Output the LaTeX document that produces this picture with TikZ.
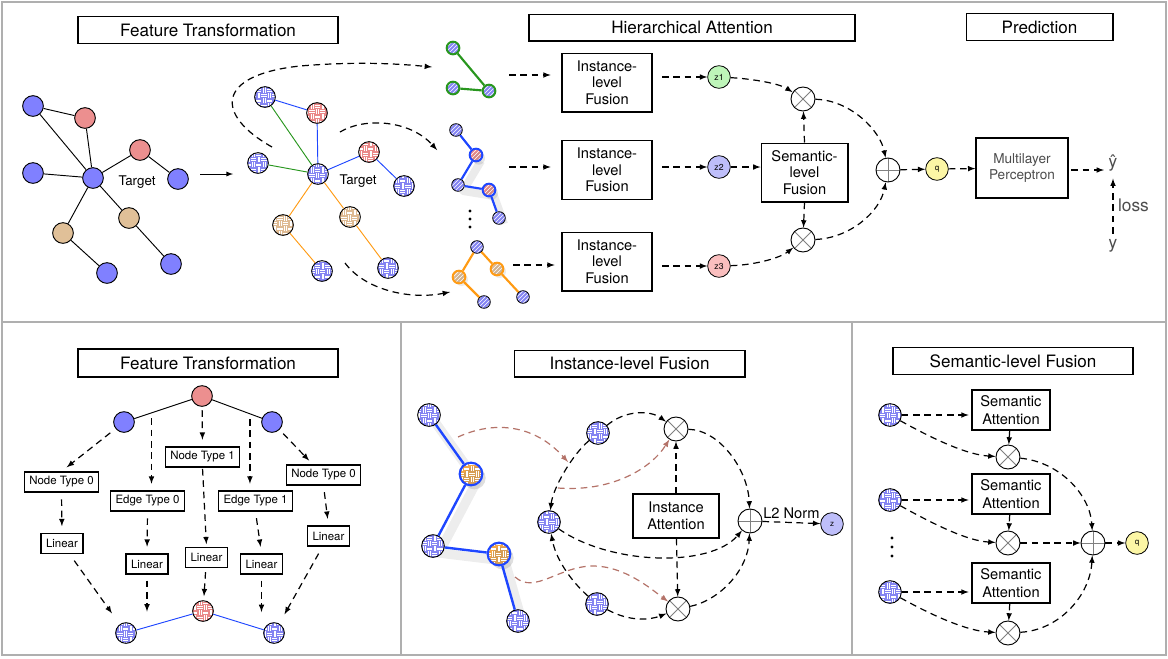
\documentclass[tikz,border=0pt]{standalone}
\usepackage{fontspec}
\setmainfont{TeX Gyre Heros}
\usetikzlibrary{patterns,shadows}

\definecolor{nblue}{RGB}{128,128,255}
\definecolor{nred}{RGB}{236,143,143}
\definecolor{ntan}{RGB}{224,192,152}
\definecolor{hblue}{RGB}{132,132,242}
\definecolor{hred}{RGB}{234,136,136}
\definecolor{htan}{RGB}{222,186,146}
\definecolor{horange}{RGB}{245,168,70}
\definecolor{eblue}{RGB}{30,70,255}
\definecolor{egreen}{RGB}{40,150,30}
\definecolor{eorange}{RGB}{255,155,20}
\definecolor{zgreen}{RGB}{190,245,185}
\definecolor{zblue}{RGB}{190,190,250}
\definecolor{zred}{RGB}{250,190,190}
\definecolor{qyellow}{RGB}{252,246,165}
\definecolor{rosy}{RGB}{180,115,105}
\definecolor{framegray}{RGB}{175,175,175}

% basket weave fill of the transformed nodes
\pgfdeclarepatternformonly{weave}{\pgfqpoint{-0.5pt}{-0.5pt}}{\pgfqpoint{8.5pt}{8.5pt}}{\pgfqpoint{8pt}{8pt}}{%
  \pgfsetlinewidth{0.3pt}%
  \pgfpathmoveto{\pgfqpoint{0pt}{1.3pt}}\pgfpathlineto{\pgfqpoint{4pt}{1.3pt}}%
  \pgfpathmoveto{\pgfqpoint{0pt}{2.7pt}}\pgfpathlineto{\pgfqpoint{4pt}{2.7pt}}%
  \pgfpathmoveto{\pgfqpoint{5.3pt}{0pt}}\pgfpathlineto{\pgfqpoint{5.3pt}{4pt}}%
  \pgfpathmoveto{\pgfqpoint{6.7pt}{0pt}}\pgfpathlineto{\pgfqpoint{6.7pt}{4pt}}%
  \pgfpathmoveto{\pgfqpoint{1.3pt}{4pt}}\pgfpathlineto{\pgfqpoint{1.3pt}{8pt}}%
  \pgfpathmoveto{\pgfqpoint{2.7pt}{4pt}}\pgfpathlineto{\pgfqpoint{2.7pt}{8pt}}%
  \pgfpathmoveto{\pgfqpoint{4pt}{5.3pt}}\pgfpathlineto{\pgfqpoint{8pt}{5.3pt}}%
  \pgfpathmoveto{\pgfqpoint{4pt}{6.7pt}}\pgfpathlineto{\pgfqpoint{8pt}{6.7pt}}%
  \pgfusepath{stroke}}

\begin{document}
\begin{tikzpicture}[x=0.75pt, y=-0.75pt, >=latex,
    vtx/.style={circle, draw, line width=0.7pt, inner sep=0pt, minimum size=15.5pt},
    hvtx/.style={vtx, preaction={fill=#1}, pattern=weave, pattern color=white},
    svtx/.style={circle, draw, line width=0.6pt, inner sep=0pt, minimum size=9.5pt,
        preaction={fill=#1}, pattern=north east lines, pattern color=white},
    svtx/.default=hblue,
    title/.style={draw, line width=1pt, minimum height=20pt, font=\fontsize{12.8}{14}\selectfont},
    fbox/.style={draw, line width=1pt, align=center, inner sep=2pt, font=\fontsize{11}{12.5}\selectfont},
    tbox/.style={draw, line width=0.9pt, inner sep=2pt, minimum height=15pt, minimum width=56pt,
        font=\fontsize{8.6}{10}\selectfont},
    lbox/.style={tbox, minimum width=31.5pt},
    zc/.style={circle, draw, line width=0.6pt, inner sep=0pt, minimum size=17pt,
        font=\fontsize{6.5}{7}\selectfont},
    mult/.style={circle, draw, line width=0.7pt, inner sep=0pt, minimum size=18pt, fill=white,
        path picture={\draw[gray, line width=0.6pt]
            (path picture bounding box.north west) -- (path picture bounding box.south east)
            (path picture bounding box.north east) -- (path picture bounding box.south west);}},
    plus/.style={mult, path picture={\draw[gray, line width=0.6pt]
            (path picture bounding box.north) -- (path picture bounding box.south)
            (path picture bounding box.west) -- (path picture bounding box.east);}},
    dar/.style={->, dash pattern=on 5pt off 3.5pt, line width=0.9pt},
    rdar/.style={dar, rosy},
    grey/.style={text=black!70}]

\useasboundingbox (0,0) rectangle (1168,658);

% panels
\draw[framegray, line width=1.2pt] (2,2) rectangle (1166,322);
\draw[framegray, line width=1.2pt] (2,322) rectangle (401,655) (401,322) rectangle (852,655) (852,322) rectangle (1166,655);

% ---------- top: feature transformation ----------
\node[title, minimum width=195pt] (ft) at (208,30) {Feature Transformation};

\node[vtx, fill=nblue] (a) at (33,106) {};
\node[vtx, fill=nred] (b) at (85,118) {};
\node[vtx, fill=nblue] (c) at (33,173) {};
\node[vtx, fill=nblue] (t) at (93,178) {};
\node[vtx, fill=nred] (d) at (140,150) {};
\node[vtx, fill=nblue] (e) at (178,179) {};
\node[vtx, fill=ntan] (f) at (129,218) {};
\node[vtx, fill=ntan] (g) at (63,233) {};
\node[vtx, fill=nblue] (h) at (107,273) {};
\node[vtx, fill=nblue] (i) at (171,264) {};
\node[font=\fontsize{10}{12}\selectfont] (tl) at (137,182) {Target};
\draw[line width=0.7pt] (a) -- (b) (a) -- (t) (b) -- (t) (c) -- (t) (t) -- (d) (d) -- (e)
    (t) -- (f) (f) -- (i) (t) -- (g) (g) -- (h);

\coordinate (l0) at (200,174);
\coordinate (l1) at (233,174);
\draw[->, line width=0.7pt] (l0) -- (l1);

\node[hvtx=hblue] (ra) at (265,97) {};
\node[hvtx=hred] (rb) at (317,113) {};
\node[hvtx=hblue] (rc) at (258,163) {};
\node[hvtx=hblue] (rt) at (318,174) {};
\node[hvtx=hred] (rd) at (369,152) {};
\node[hvtx=hblue] (re) at (404,186) {};
\node[hvtx=htan] (rf) at (350,217) {};
\node[hvtx=htan] (rg) at (283,225) {};
\node[hvtx=hblue] (rh) at (322,271) {};
\node[hvtx=hblue] (ri) at (388,268) {};
\node[font=\fontsize{10}{12}\selectfont] (rl) at (358,181) {Target};
\draw[eblue, line width=0.7pt] (ra) -- (rb) (rb) -- (rt) (rt) -- (rd) (rd) -- (re);
\draw[egreen, line width=0.7pt] (ra) -- (rt) (rc) -- (rt);
\draw[eorange, line width=0.7pt] (rt) -- (rf) (rf) -- (ri) (rt) -- (rg) (rg) -- (rh);

% meta-path instances
\coordinate (p1) at (272,147);
\coordinate (p1e) at (432,67);
\coordinate (p2) at (340,132);
\coordinate (p2e) at (437,150);
\coordinate (p3) at (345,263);
\coordinate (p3e) at (450,292);
\draw[dar] (p1) .. controls (215,115) and (215,75) .. (300,66) .. controls (360,61) and (400,64) .. (p1e);
\draw[dar] (p2) .. controls (365,117) and (410,120) .. (p2e);
\draw[dar] (p3) .. controls (365,290) and (410,300) .. (p3e);

\node[svtx, draw=egreen, line width=1.5pt] (g1) at (453,48) {};
\node[svtx, draw=egreen, line width=1.5pt] (g2) at (453,88) {};
\node[svtx, draw=egreen, line width=1.5pt] (g3) at (489,91) {};
\draw[egreen, line width=1.6pt] (g1) -- (g3) (g2) -- (g3);

\draw[black, opacity=0.08, line width=6pt, line join=round]
    ([shift={(5,6)}]476,155) -- ([shift={(5,6)}]458,185) -- ([shift={(5,6)}]489,190) -- ([shift={(5,6)}]499,218);
\node[svtx] (b1) at (456,130) {};
\node[svtx=hred, draw=eblue, line width=1.5pt, drop shadow={opacity=0.2, shadow xshift=2pt, shadow yshift=-2.5pt}] (b2) at (476,155) {};
\node[svtx] (b3) at (458,185) {};
\node[svtx=hred, draw=eblue, line width=1.5pt, drop shadow={opacity=0.2, shadow xshift=2pt, shadow yshift=-2.5pt}] (b4) at (489,190) {};
\node[svtx] (b5) at (499,218) {};
\draw[eblue, line width=1.6pt] (b1) -- (b2) (b2) -- (b3) (b3) -- (b4) (b4) -- (b5);

\foreach \yy in {211,219,227} \fill (470,\yy) circle (1.2pt);

\node[svtx] (o1) at (477,247) {};
\node[svtx=htan, draw=eorange, line width=1.5pt, drop shadow={opacity=0.15, shadow xshift=2pt, shadow yshift=-2pt}] (o2) at (497,269) {};
\node[svtx=htan, draw=eorange, line width=1.5pt, drop shadow={opacity=0.15, shadow xshift=2pt, shadow yshift=-2pt}] (o3) at (459,277) {};
\node[svtx] (o4) at (484,302) {};
\node[svtx] (o5) at (523,297) {};
\draw[eorange, line width=1.6pt] (o1) -- (o2) (o1) -- (o3) (o3) -- (o4) (o2) -- (o5);

% ---------- top: hierarchical attention ----------
\node[title, minimum width=244.5pt] (ha) at (692,27.5) {Hierarchical Attention};

\node[fbox, minimum width=67.5pt, minimum height=44pt] (ib1) at (607,82.5) {Instance-\\level\\Fusion};
\node[fbox, minimum width=67.5pt, minimum height=44pt] (ib2) at (607,170) {Instance-\\level\\Fusion};
\node[fbox, minimum width=67.5pt, minimum height=44pt] (ib3) at (607,261.5) {Instance-\\level\\Fusion};

\coordinate (gg) at (509,75);
\coordinate (bb) at (509,167);
\coordinate (oo) at (513,265);
\draw[dar, shorten >=8pt] (gg) -- (gg -| ib1.west);
\draw[dar, shorten >=8pt] (bb) -- (bb -| ib2.west);
\draw[dar, shorten >=5pt] (oo) -- (oo -| ib3.west);

\node[zc, fill=zgreen] (z1) at (719,77) {z1};
\node[zc, fill=zblue] (z2) at (719,167) {z2};
\node[zc, fill=zred] (z3) at (719,266) {z3};
\draw[dar, shorten <=7pt] (ib1.east |- z1) -- (z1);
\draw[dar, shorten <=7pt] (ib2.east |- z2) -- (z2);
\draw[dar, shorten <=7pt] (ib3.east |- z3) -- (z3);

\node[fbox, minimum width=65pt, minimum height=44pt] (sb) at (804.5,172.5) {Semantic-\\level\\Fusion};
\node[mult] (mt) at (803,99) {};
\node[mult] (mb) at (803,240) {};
\draw[dar] (z2) -- (z2 -| sb.west);
\draw[dar] (sb.north) -- (mt);
\draw[dar] (sb.south) -- (mb);
\draw[dar] (z1) .. controls (755,79) and (780,84) .. (mt);
\draw[dar] (z3) .. controls (755,265) and (780,258) .. (mb);

\node[plus] (pt) at (888,170) {};
\draw[dar] (mt) .. controls (850,100) and (880,130) .. (pt);
\draw[dar] (mb) .. controls (850,238) and (880,212) .. (pt);

% ---------- top: prediction ----------
\node[title, minimum width=110pt] (pr) at (1039.5,27) {Prediction};
\node[zc, fill=qyellow, font=\fontsize{6}{6}\selectfont] (q) at (937,169) {q};
\node[fbox, grey, minimum width=69pt, minimum height=45pt, font=\fontsize{10.2}{12.5}\selectfont] (mlp) at (1022,168) {Multilayer\\Perceptron};
\node[grey, font=\fontsize{13}{14}\selectfont] (yh) at (1113,163) {ŷ};
\node[grey, font=\fontsize{13}{14}\selectfont] (yy) at (1113,246) {y};
\draw[dar] (pt) -- (q);
\draw[dar] (q) -- (mlp);
\draw[dar, shorten <=2pt] (mlp.east |- 0,170) -- (yh.west |- 0,170);
\draw[dar, shorten <=1pt, shorten >=2pt] (yy) -- node[right, grey, font=\fontsize{13}{14}\selectfont] {loss} (yh);

% ---------- bottom left: feature transformation ----------
\node[title, minimum width=195pt, minimum height=21pt] (ft2) at (208,363) {Feature Transformation};

\node[vtx, fill=nred] (u0) at (202,396) {};
\node[vtx, fill=nblue] (ul) at (124,422) {};
\node[vtx, fill=nblue] (ur) at (272,422) {};
\draw[line width=0.7pt] (ul) -- coordinate[pos=0.3] (e0) (u0);
\draw[line width=0.7pt] (u0) -- coordinate[pos=0.76] (e1) (ur);

\node[tbox] (nt0) at (61.5,482) {Node Type 0};
\node[tbox] (et0) at (147.5,501) {Edge Type 0};
\node[tbox] (nt1) at (202.5,457) {Node Type 1};
\node[tbox] (et1) at (255.5,501) {Edge Type 1};
\node[tbox] (nt2) at (323.5,475) {Node Type 0};
\node[lbox] (ln0) at (62,543.5) {Linear};
\node[lbox] (ln1) at (147,564) {Linear};
\node[lbox] (ln2) at (206.5,557.5) {Linear};
\node[lbox] (ln3) at (261.5,564) {Linear};
\node[lbox] (ln4) at (328.5,536) {Linear};

\node[hvtx=hred] (w0) at (203,611) {};
\node[hvtx=hblue] (wl) at (126,633) {};
\node[hvtx=hblue] (wr) at (274,633) {};
\draw[eblue, line width=0.7pt] (wl) -- coordinate[pos=0.32] (f0) (w0);
\draw[eblue, line width=0.7pt] (w0) -- coordinate[pos=0.8] (f1) (wr);

\draw[dar, shorten <=5pt, shorten >=5pt] (ul) -- (nt0.north);
\draw[dar, shorten <=4pt, shorten >=5pt] (e0) -- (e0 |- et0.north);
\draw[dar, shorten <=2.5pt, shorten >=5pt] (u0) -- (nt1.north);
\draw[dar, shorten <=4pt, shorten >=5pt] (e1) -- (e1 |- et1.north);
\draw[dar, shorten <=4pt, shorten >=4pt] (ur) -- ([xshift=-8pt]nt2.north);
\draw[dar, shorten <=5pt, shorten >=5pt] (nt0.south) -- (ln0.north);
\draw[dar, shorten <=5pt, shorten >=5pt] (et0.south) -- (ln1.north);
\draw[dar, shorten <=1pt, shorten >=2pt] (nt1.south) -- (ln2.north);
\draw[dar, shorten <=5pt, shorten >=5pt] (et1.south) -- (ln3.north);
\draw[dar, shorten <=5pt, shorten >=5pt] (nt2.south) -- (ln4.north);
\draw[dar, shorten <=6pt, shorten >=10pt] (ln0) -- (wl);
\draw[dar, shorten <=4.5pt, shorten >=10pt] (ln1.south) -- (ln1.south |- f0);
\draw[dar, shorten <=3pt, shorten >=3pt] (ln2) -- (w0);
\draw[dar, shorten <=4.5pt, shorten >=11pt] (ln3.south) -- (ln3.south |- f1);
\draw[dar, shorten <=6pt, shorten >=8pt] (ln4) -- (wr);

% ---------- bottom middle: instance-level fusion ----------
\node[title, minimum width=173pt] (ilf) at (629.5,363.5) {Instance-level Fusion};

\draw[black, opacity=0.07, line width=7pt, line join=round]
    ([shift={(6,7)}]429,415) -- ([shift={(6,7)}]471,474) -- ([shift={(6,7)}]433,546)
    -- ([shift={(6,7)}]499,554) -- ([shift={(6,7)}]518,621);
\node[hvtx=hblue, minimum size=17pt] (n1) at (429,415) {};
\node[hvtx=horange, minimum size=17pt, draw=eblue, line width=1.6pt,
    drop shadow={opacity=0.25, shadow xshift=2.5pt, shadow yshift=-3pt}] (n2) at (471,474) {};
\node[hvtx=hblue, minimum size=17pt] (n3) at (433,546) {};
\node[hvtx=horange, minimum size=17pt, draw=eblue, line width=1.6pt,
    drop shadow={opacity=0.25, shadow xshift=2.5pt, shadow yshift=-3pt}] (n4) at (499,554) {};
\node[hvtx=hblue, minimum size=17pt] (n5) at (518,621) {};
\draw[eblue, line width=1.8pt] (n1) -- (n2) (n2) -- (n3) (n3) -- (n4) (n4) -- (n5);

\node[hvtx=hblue, minimum size=17pt] (m1) at (598,433) {};
\node[hvtx=hblue, minimum size=17pt] (m2) at (549,522) {};
\node[hvtx=hblue, minimum size=17pt] (m3) at (597,604) {};
\node[mult] (x1) at (676,429) {};
\node[mult] (x2) at (678,609) {};
\node[plus] (pp) at (750,521) {};
\node[fbox, minimum width=64.5pt, minimum height=33pt] (ia) at (676,516) {Instance\\Attention};
\node[zc, fill=zblue, font=\fontsize{6}{6}\selectfont] (zz) at (832,524) {z};

\draw[dar] (m1) .. controls (625,410) and (650,410) .. (x1);
\draw[dar] (x1) .. controls (720,430) and (748,470) .. (pp);
\draw[dar] (m1) .. controls (572,455) and (553,488) .. (m2);
\draw[dar] (m2) .. controls (610,565) and (710,568) .. (pp);
\draw[dar] (m3) .. controls (572,582) and (556,560) .. (m2);
\draw[dar] (m3) .. controls (630,622) and (650,620) .. (x2);
\draw[dar] (x2) .. controls (720,600) and (748,570) .. (pp);
\draw[dar] (ia) -- (x1);
\draw[dar] (ia) -- (x2);
\draw[dar] (pp) -- node[above=-1pt, font=\fontsize{11}{12}\selectfont] {L2 Norm} (zz);

\coordinate (r1a) at (458,437);
\coordinate (r1b) at (568,462);
\coordinate (r2a) at (558,488);
\coordinate (r3a) at (515,577);
\draw[rdar] (r1a) .. controls (495,420) and (535,425) .. (r1b);
\draw[rdar] (r2a) .. controls (610,492) and (650,470) .. (x1);
\draw[rdar] (r3a) .. controls (535,595) and (560,565) .. (595,566) .. controls (625,567) and (650,588) .. (x2);

% ---------- bottom right: semantic-level fusion ----------
\node[title, minimum width=180pt] (slf) at (1013,361) {Semantic-level Fusion};

\node[hvtx=hblue, minimum size=17pt] (s1) at (890,415) {};
\node[hvtx=hblue, minimum size=17pt] (s2) at (890,500) {};
\node[hvtx=hblue, minimum size=17pt] (s3) at (890,592) {};
\foreach \yy in {538,547,556} \fill (892,\yy) circle (1.2pt);

\node[fbox, minimum width=58.5pt, minimum height=30pt, font=\fontsize{11}{13.5}\selectfont] (sa1) at (1011,410) {Semantic\\Attention};
\node[fbox, minimum width=58.5pt, minimum height=30pt, font=\fontsize{11}{13.5}\selectfont] (sa2) at (1011,494) {Semantic\\Attention};
\node[fbox, minimum width=58.5pt, minimum height=30pt, font=\fontsize{11}{13.5}\selectfont] (sa3) at (1011,583) {Semantic\\Attention};
\node[mult] (sx1) at (1008,457) {};
\node[mult] (sx2) at (1008,543) {};
\node[mult] (sx3) at (1008,633) {};
\node[plus] (sp) at (1093,543) {};
\node[zc, fill=qyellow, font=\fontsize{6}{6}\selectfont] (q2) at (1137,543) {q};

\draw[dar, shorten >=2pt] (s1) -- (s1 -| sa1.west);
\draw[dar, shorten >=2pt] (s2) -- (s2 -| sa2.west);
\draw[dar, shorten >=2pt] (s3) -- (s3 -| sa3.west);
\draw[dar] (s1) .. controls (935,440) and (968,455) .. (sx1);
\draw[dar] (s2) .. controls (935,525) and (968,541) .. (sx2);
\draw[dar] (s3) .. controls (935,617) and (968,631) .. (sx3);
\draw[dar] (sa1) -- (sx1);
\draw[dar] (sa2) -- (sx2);
\draw[dar] (sa3) -- (sx3);
\draw[dar] (sx1) .. controls (1060,462) and (1090,495) .. (sp);
\draw[dar] (sx2) -- (sp);
\draw[dar] (sx3) .. controls (1060,630) and (1090,595) .. (sp);
\draw[dar] (sp) -- (q2);
\end{tikzpicture}
\end{document}
